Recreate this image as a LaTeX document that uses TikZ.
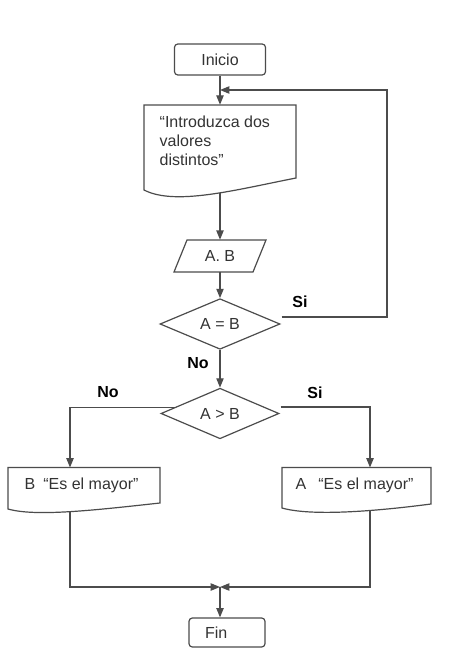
\documentclass[tikz,border=0pt]{standalone}
\usepackage{fontspec}
\setmainfont{Liberation Sans}
\usetikzlibrary{shapes.geometric,arrows.meta,calc}
\begin{document}
\begin{tikzpicture}[x=0.75pt,y=-0.75pt,
  every node/.style={font=\fontsize{12}{14.4}\selectfont, text=black!80},
  ln/.style={draw=black!70, line width=0.9pt},
  arr/.style={ln, -{Triangle[length=7pt,width=5.5pt]}},
  term/.style={ln, rectangle, rounded corners=2.5pt, minimum width=68.25pt, minimum height=23.25pt, inner sep=0pt},
  dec/.style={ln, diamond, inner sep=0pt},
  bbox/.style={rectangle, inner sep=0pt},
  lab/.style={font=\bfseries\fontsize{12}{14.4}\selectfont, text=black}]
\path[fill=white, use as bounding box] (0,0) rectangle (474,670);

% nodes
\node[term] (inicio) at (220,59.5) {Inicio};
\node[bbox, minimum width=114pt, minimum height=66pt] (doc1) at (220,149) {};
\node[anchor=west, align=left] (doc1t) at (155,141) {“Introduzca dos\\valores\\distintos”};
\node[bbox, minimum width=60pt, minimum height=24pt] (ab) at (220,256) {A. B};
\node[dec, minimum width=90pt, minimum height=33pt] (d1) at (220,324) {A = B};
\node[dec, minimum width=88.5pt, minimum height=32.25pt] (d2) at (220,413.5) {A > B};
\node[bbox, minimum width=114pt, minimum height=32.5pt] (boxB) at (84,489.5) {};
\node[anchor=west] (boxBt) at (20,485) {B\hspace{6pt}“Es el mayor”};
\node[bbox, minimum width=111.75pt, minimum height=33pt] (boxA) at (356.5,489.5) {};
\node[anchor=west] (boxAt) at (291,485) {A\hspace{9pt}“Es el mayor”};
\node[term, minimum width=57pt, minimum height=21.75pt, text width=33pt, align=left, inner xsep=12pt] (fin) at (227,632.5) {Fin};

% shape outlines
\draw[ln] (144,105) -- (296,105) -- (296,178) .. controls (235,190) and (175,206) .. (144,190) -- cycle;
\draw[ln] (187,240) -- (266,240) -- (253,272) -- (174,272) -- cycle;
\draw[ln] (8,467.5) -- (160,467.5) -- (160,503) .. controls (96,510) and (36,517) .. (8,509) -- cycle;
\draw[ln] (282,467.5) -- (431,467.5) -- (431,504) .. controls (370,512) and (310,516) .. (282,508) -- cycle;

% labels
\node[lab] (si1) at (300,302) {Si};
\node[lab] (no1) at (198,363) {No};
\node[lab] (no2) at (108,392) {No};
\node[lab] (si2) at (315,393) {Si};

% coordinates
\coordinate (loopc) at (387,90);
\coordinate (loopin) at (220,90);
\coordinate (bBin) at (70,467.5);
\coordinate (bAin) at (370,467.5);
\coordinate (bBout) at (70,511);
\coordinate (bAout) at (370,510.6);
\coordinate (merge) at (220,587);

% connectors
\draw[arr] (inicio.south) -- (doc1.north);
\draw[arr] ($(d1.east)+(1,-7)$) -| (loopc) -- (loopin);
\draw[arr] (doc1.south) -- (ab.north);
\draw[arr] (ab.south) -- (d1.north);
\draw[arr] (d1.south) -- (d2.north);
\draw[arr] (d2.172) -| (bBin);
\draw[arr] ($(d2.east)+(1,-6.5)$) -| (bAin);
\draw[arr] (bBout) |- (merge);
\draw[arr] (bAout) |- (merge);
\draw[arr] (merge) -- (merge |- fin.north);
\end{tikzpicture}
\end{document}
